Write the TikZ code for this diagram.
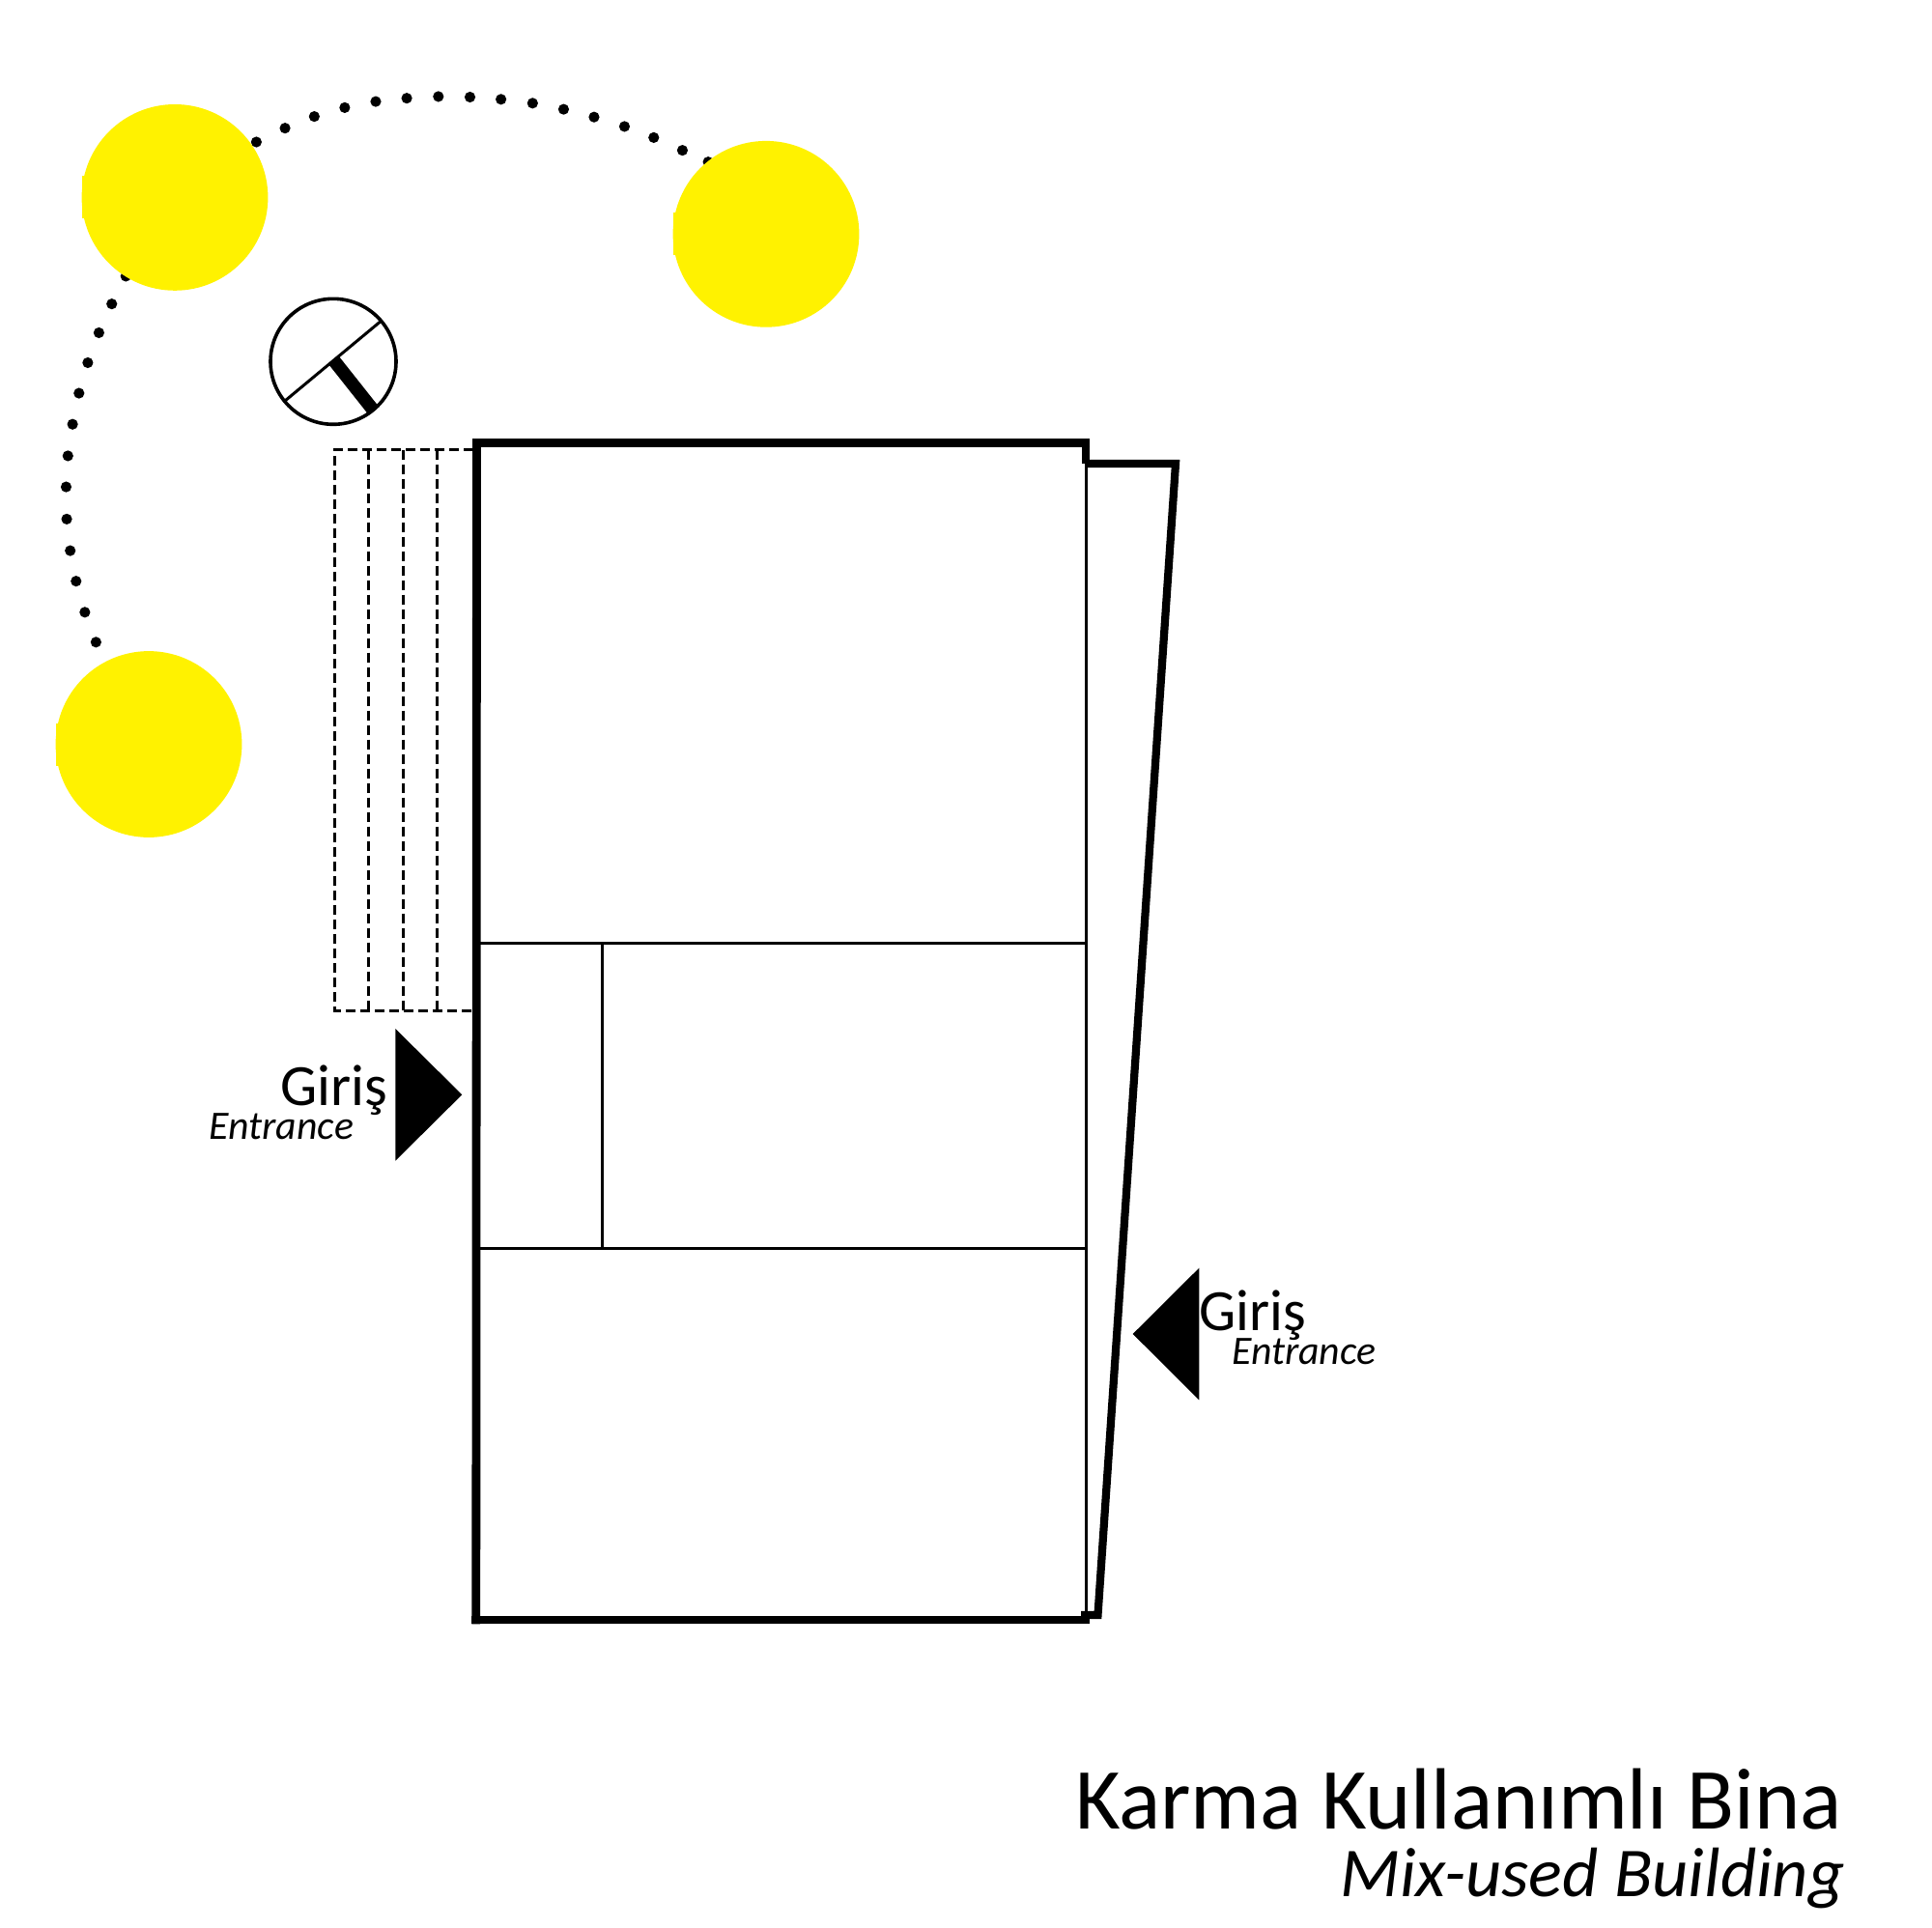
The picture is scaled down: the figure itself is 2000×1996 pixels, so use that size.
\documentclass[tikz,border=0pt]{standalone}
\usepackage{fontspec}
\setmainfont{Carlito}
\definecolor{sunyellow}{HTML}{FFF200}
\tikzset{
  thickwall/.style={line width=8.8pt,line join=miter,line cap=butt},
  slantwall/.style={line width=8.2pt,line join=miter,line cap=butt},
  thinwall/.style={line width=3pt},
  stair/.style={line width=3pt,dash pattern=on 10pt off 5pt},
  tree/.style={fill=sunyellow},
  entry/.style={fill=black},
  txt/.style={anchor=base west,inner sep=0pt,outer sep=0pt,text=black}
}
\begin{document}
\begin{tikzpicture}[x=1pt,y=-1pt]
\useasboundingbox (0,0) rectangle (2000,1996);
% dotted arcs
\foreach \a/\b in {438/169,487/144,537/123,589/107,642/96,695/90,749/87,803/88,856/92,910/99,963/110,1015/124,1067/141,1117/161,1166/184,1210/205,
  215/411,191/461,169/513,150/567,135/622,124/678,116/735,113/791,114/849,120/906,130/961,145/1017,164/1071}
  \fill ({\a/1.6505},{50+\b/1.742}) circle (5.6pt);
% trees
\foreach \cx/\cy in {181/204.4,793/242.3,154/770.5}{
  \fill[tree] (\cx,\cy) circle (96.4pt);
  \fill[tree] (\cx-96.2,\cy-22) rectangle (\cx-70,\cy+22);
}
% north symbol
\draw[line width=3.6pt] (345,374.3) circle (65pt);
\draw[line width=3pt] (295,415) -- (394,332.7);
\draw[line width=13.5pt] (345.5,373) -- (385.5,423.5);
% stairs
\draw[stair] (490,465.6) -- (346.7,465.6) -- (346.7,1046) -- (490,1046);
\draw[stair] (381.9,465.6) -- (381.9,1046);
\draw[stair] (417,465.6) -- (417,1046);
\draw[stair] (452,465.6) -- (452,1046);
% thin partitions
\draw[thinwall] (492,976) -- (1124,976);
\draw[thinwall] (492,1292.7) -- (1124,1292.7);
\draw[thinwall] (623.3,976) -- (623.3,1292.7);
\draw[thinwall] (1124,480) -- (1124,1672);
% building outline
\draw[thickwall] (1128.3,458.5) -- (489,458.5);
\draw[thickwall] (493.5,454.1) -- (492.8,1681.4);
\draw[thickwall] (488.4,1677) -- (1127.7,1677);
\draw[thickwall] (1124,454.1) -- (1124,480);
\draw[slantwall] (1124,480) -- (1217,480) -- (1136.5,1672) -- (1119,1672);
% entrance arrows
\fill[entry] (409.3,1065) -- (478.3,1133.3) -- (409.3,1201.7) -- cycle;
\fill[entry] (1241.3,1312.7) -- (1172.7,1381) -- (1241.3,1449.3) -- cycle;
% labels
\node[txt,font=\fontsize{60.5}{63}\selectfont] (g1) at (290,1144) {Giriş};
\node[txt,font=\fontsize{41.8}{44}\selectfont\itshape] (e1) at (216.5,1179) {Entrance};
\node[txt,font=\fontsize{60.5}{63}\selectfont] (g2) at (1241.5,1377.7) {Giriş};
\node[txt,font=\fontsize{41.8}{44}\selectfont\itshape] (e2) at (1275,1412.7) {Entrance};
\node[txt,font=\fontsize{90}{94}\selectfont] (t1) at (1113,1893) {Karma Kullanımlı Bina};
\node[txt,font=\fontsize{72.5}{76}\selectfont\itshape] (t2) at (1387,1963) {Mix-used Building};
\end{tikzpicture}
\end{document}
